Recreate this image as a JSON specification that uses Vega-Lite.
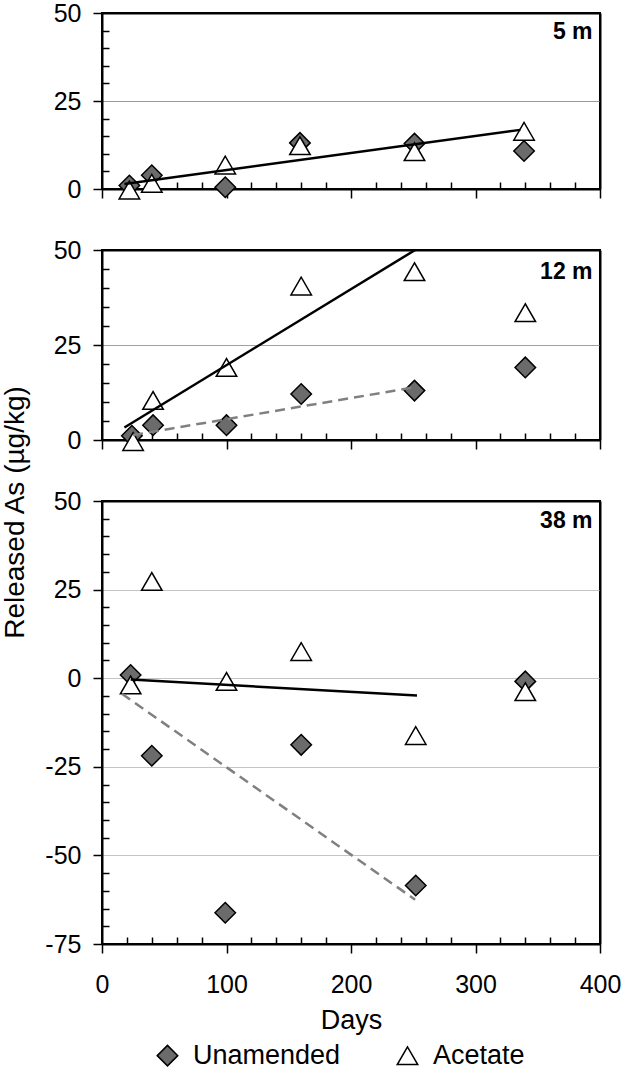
{
  "$schema": "https://vega.github.io/schema/vega-lite/v6.json",
  "background": "white",
  "padding": {"left": 0, "top": 0, "right": 0, "bottom": 0},
  "bounds": "flush",
  "spacing": 61,
  "datasets": {
    "pts": [
      {"panel": "5 m", "series": "Unamended", "day": 22, "value": 1.0},
      {"panel": "5 m", "series": "Unamended", "day": 40, "value": 3.9},
      {"panel": "5 m", "series": "Unamended", "day": 99, "value": 0.5},
      {"panel": "5 m", "series": "Unamended", "day": 159, "value": 13.1},
      {"panel": "5 m", "series": "Unamended", "day": 251, "value": 12.9},
      {"panel": "5 m", "series": "Unamended", "day": 339, "value": 10.8},
      {"panel": "12 m", "series": "Unamended", "day": 24, "value": 1.1},
      {"panel": "12 m", "series": "Unamended", "day": 41, "value": 3.9},
      {"panel": "12 m", "series": "Unamended", "day": 100, "value": 3.9},
      {"panel": "12 m", "series": "Unamended", "day": 160, "value": 12.1},
      {"panel": "12 m", "series": "Unamended", "day": 251, "value": 13.0},
      {"panel": "12 m", "series": "Unamended", "day": 340, "value": 19.1},
      {"panel": "38 m", "series": "Unamended", "day": 23, "value": 0.9},
      {"panel": "38 m", "series": "Unamended", "day": 40, "value": -21.9},
      {"panel": "38 m", "series": "Unamended", "day": 99, "value": -66.2},
      {"panel": "38 m", "series": "Unamended", "day": 160, "value": -18.8},
      {"panel": "38 m", "series": "Unamended", "day": 252, "value": -58.5},
      {"panel": "38 m", "series": "Unamended", "day": 340, "value": -0.9},
      {"panel": "5 m", "series": "Acetate", "day": 22, "value": -0.3},
      {"panel": "5 m", "series": "Acetate", "day": 40, "value": 1.6},
      {"panel": "5 m", "series": "Acetate", "day": 99, "value": 6.8},
      {"panel": "5 m", "series": "Acetate", "day": 159, "value": 12.3},
      {"panel": "5 m", "series": "Acetate", "day": 251, "value": 10.6},
      {"panel": "5 m", "series": "Acetate", "day": 339, "value": 16.4},
      {"panel": "12 m", "series": "Acetate", "day": 25, "value": -0.4},
      {"panel": "12 m", "series": "Acetate", "day": 41, "value": 10.4},
      {"panel": "12 m", "series": "Acetate", "day": 100, "value": 19.1},
      {"panel": "12 m", "series": "Acetate", "day": 160, "value": 40.5},
      {"panel": "12 m", "series": "Acetate", "day": 251, "value": 44.3},
      {"panel": "12 m", "series": "Acetate", "day": 340, "value": 33.5},
      {"panel": "38 m", "series": "Acetate", "day": 23, "value": -1.9},
      {"panel": "38 m", "series": "Acetate", "day": 40, "value": 27.3},
      {"panel": "38 m", "series": "Acetate", "day": 100, "value": -0.9},
      {"panel": "38 m", "series": "Acetate", "day": 160, "value": 7.5},
      {"panel": "38 m", "series": "Acetate", "day": 252, "value": -16.2},
      {"panel": "38 m", "series": "Acetate", "day": 340, "value": -3.8}
    ],
    "fits": [
      {"panel": "5 m", "fit": "Acetate", "day": 18, "value": 1.4},
      {"panel": "5 m", "fit": "Acetate", "day": 336, "value": 16.8},
      {"panel": "12 m", "fit": "Acetate", "day": 18, "value": 3.3},
      {"panel": "12 m", "fit": "Acetate", "day": 251.5, "value": 50},
      {"panel": "12 m", "fit": "Unamended", "day": 25, "value": 1.3},
      {"panel": "12 m", "fit": "Unamended", "day": 251.5, "value": 13.9},
      {"panel": "38 m", "fit": "Acetate", "day": 23, "value": -0.4},
      {"panel": "38 m", "fit": "Acetate", "day": 253, "value": -4.9},
      {"panel": "38 m", "fit": "Unamended", "day": 16, "value": -4.4},
      {"panel": "38 m", "fit": "Unamended", "day": 251.5, "value": -62.5}
    ],
    "labs": [
      {"panel": "5 m"},
      {"panel": "12 m"},
      {"panel": "38 m"}
    ]
  },
  "resolve": {"scale": {"y": "independent", "x": "shared", "shape": "shared", "fill": "shared", "stroke": "shared"}},
  "vconcat": [
    {
      "width": 498,
      "height": 176,
      "resolve": {"axis": {"x": "independent", "y": "independent"}},
      "layer": [
        {
          "data": {"name": "pts"},
          "transform": [{"filter": "datum.panel === '5 m'"}],
          "mark": {"type": "point", "filled": true, "size": 420, "strokeWidth": 1.5, "opacity": 1},
          "encoding": {
            "x": {"field": "day", "type": "quantitative", "scale": {"domain": [0, 400], "nice": false},
              "axis": {"values": [0,20,40,60,80,100,120,140,160,180,200,220,240,260,280,300,320,340,360,380,400],
                "tickSize": {"condition": {"test": "datum.value % 100 === 0", "value": 9}, "value": -7},
                "labels": false, "title": null, "grid": false}},
            "y": {"field": "value", "type": "quantitative", "scale": {"domain": [0, 50], "nice": false, "zero": false},
              "axis": {"values": [0,5,10,15,20,25,30,35,40,45,50],
                "tickSize": {"condition": {"test": "datum.value % 25 === 0", "value": 9}, "value": -7},
                "labelExpr": "datum.value % 25 === 0 ? '' + datum.value : ''",
                "gridOpacity": {"condition": {"test": "datum.value % 25 === 0", "value": 1}, "value": 0},
                "gridColor": "#999999", "labelPadding": 12, "title": null}},
            "shape": {"field": "series", "type": "nominal", "scale": {"domain": ["Unamended", "Acetate"], "range": ["diamond", "triangle-up"]}, "legend": {"title": null}},
            "fill": {"field": "series", "type": "nominal", "scale": {"domain": ["Unamended", "Acetate"], "range": ["#6b6b6b", "white"]}, "legend": {"title": null}},
            "stroke": {"field": "series", "type": "nominal", "scale": {"domain": ["Unamended", "Acetate"], "range": ["black", "black"]}, "legend": {"title": null}}
          }
        },
        {
          "data": {"name": "fits"},
          "transform": [{"filter": "datum.panel === '5 m' && datum.fit === 'Acetate'"}],
          "mark": {"type": "line", "color": "black", "strokeWidth": 2.5},
          "encoding": {
            "x": {"field": "day", "type": "quantitative", "scale": {"domain": [0, 400], "nice": false},
              "axis": {"orient": "top", "domain": true, "ticks": false, "labels": false, "grid": false, "title": null}},
            "y": {"field": "value", "type": "quantitative", "scale": {"domain": [0, 50], "nice": false, "zero": false},
              "axis": {"orient": "right", "domain": true, "ticks": false, "labels": false, "grid": false, "title": null}}
          }
        },
        {
          "data": {"name": "labs"},
          "transform": [{"filter": "datum.panel === '5 m'"}],
          "mark": {"type": "text", "align": "right", "baseline": "alphabetic", "fontSize": 23, "fontWeight": "bold", "fill": "black", "font": "Liberation Sans"},
          "encoding": {
            "x": {"datum": 394, "type": "quantitative", "axis": null},
            "y": {"datum": 42.5, "type": "quantitative", "axis": null},
            "text": {"field": "panel", "type": "nominal"}
          }
        }
      ]
    },
    {
      "width": 498,
      "height": 190,
      "resolve": {"axis": {"x": "independent", "y": "independent"}},
      "layer": [
        {
          "data": {"name": "pts"},
          "transform": [{"filter": "datum.panel === '12 m'"}],
          "mark": {"type": "point", "filled": true, "size": 420, "strokeWidth": 1.5, "opacity": 1},
          "encoding": {
            "x": {"field": "day", "type": "quantitative", "scale": {"domain": [0, 400], "nice": false},
              "axis": {"values": [0,20,40,60,80,100,120,140,160,180,200,220,240,260,280,300,320,340,360,380,400],
                "tickSize": {"condition": {"test": "datum.value % 100 === 0", "value": 9}, "value": -7},
                "labels": false, "title": null, "grid": false}},
            "y": {"field": "value", "type": "quantitative", "scale": {"domain": [0, 50], "nice": false, "zero": false},
              "axis": {"values": [0,5,10,15,20,25,30,35,40,45,50],
                "tickSize": {"condition": {"test": "datum.value % 25 === 0", "value": 9}, "value": -7},
                "labelExpr": "datum.value % 25 === 0 ? '' + datum.value : ''",
                "gridOpacity": {"condition": {"test": "datum.value % 25 === 0", "value": 1}, "value": 0},
                "gridColor": "#a0a0a0", "labelPadding": 12,
                "title": "Released As (µg/kg)", "titleAngle": 270, "titleAlign": "center", "titleBaseline": "alphabetic",
                "titleFontSize": 28, "titleX": -79, "titleY": 262}},
            "shape": {"field": "series", "type": "nominal", "scale": {"domain": ["Unamended", "Acetate"], "range": ["diamond", "triangle-up"]}, "legend": {"title": null}},
            "fill": {"field": "series", "type": "nominal", "scale": {"domain": ["Unamended", "Acetate"], "range": ["#6b6b6b", "white"]}, "legend": {"title": null}},
            "stroke": {"field": "series", "type": "nominal", "scale": {"domain": ["Unamended", "Acetate"], "range": ["black", "black"]}, "legend": {"title": null}}
          }
        },
        {
          "data": {"name": "fits"},
          "transform": [{"filter": "datum.panel === '12 m' && datum.fit === 'Acetate'"}],
          "mark": {"type": "line", "color": "black", "strokeWidth": 2.5},
          "encoding": {
            "x": {"field": "day", "type": "quantitative", "scale": {"domain": [0, 400], "nice": false},
              "axis": {"orient": "top", "domain": true, "ticks": false, "labels": false, "grid": false, "title": null}},
            "y": {"field": "value", "type": "quantitative", "scale": {"domain": [0, 50], "nice": false, "zero": false},
              "axis": {"orient": "right", "domain": true, "ticks": false, "labels": false, "grid": false, "title": null}}
          }
        },
        {
          "data": {"name": "fits"},
          "transform": [{"filter": "datum.panel === '12 m' && datum.fit === 'Unamended'"}],
          "mark": {"type": "line", "color": "#808080", "strokeWidth": 2.5, "strokeDash": [10, 6]},
          "encoding": {
            "x": {"field": "day", "type": "quantitative", "scale": {"domain": [0, 400], "nice": false}, "axis": null},
            "y": {"field": "value", "type": "quantitative", "scale": {"domain": [0, 50], "nice": false, "zero": false}, "axis": null}
          }
        },
        {
          "data": {"name": "labs"},
          "transform": [{"filter": "datum.panel === '12 m'"}],
          "mark": {"type": "text", "align": "right", "baseline": "alphabetic", "fontSize": 23, "fontWeight": "bold", "fill": "black", "font": "Liberation Sans"},
          "encoding": {
            "x": {"datum": 394, "type": "quantitative", "axis": null},
            "y": {"datum": 42.5, "type": "quantitative", "axis": null},
            "text": {"field": "panel", "type": "nominal"}
          }
        }
      ]
    },
    {
      "width": 498,
      "height": 443,
      "resolve": {"axis": {"x": "independent", "y": "independent"}},
      "layer": [
        {
          "data": {"name": "pts"},
          "transform": [{"filter": "datum.panel === '38 m'"}],
          "mark": {"type": "point", "filled": true, "size": 420, "strokeWidth": 1.5, "opacity": 1},
          "encoding": {
            "x": {"field": "day", "type": "quantitative", "scale": {"domain": [0, 400], "nice": false},
              "axis": {"values": [0,20,40,60,80,100,120,140,160,180,200,220,240,260,280,300,320,340,360,380,400],
                "tickSize": {"condition": {"test": "datum.value % 100 === 0", "value": 9}, "value": -7},
                "labelExpr": "datum.value % 100 === 0 ? '' + datum.value : ''",
                "labelPadding": 19, "title": "Days", "titlePadding": 10, "grid": false}},
            "y": {"field": "value", "type": "quantitative", "scale": {"domain": [-75, 50], "nice": false, "zero": false},
              "axis": {"values": [-75,-70,-65,-60,-55,-50,-45,-40,-35,-30,-25,-20,-15,-10,-5,0,5,10,15,20,25,30,35,40,45,50],
                "tickSize": {"condition": {"test": "datum.value % 25 === 0", "value": 9}, "value": -7},
                "labelExpr": "datum.value % 25 === 0 ? '' + datum.value : ''",
                "gridOpacity": {"condition": {"test": "datum.value % 25 === 0", "value": 1}, "value": 0},
                "gridColor": "#c4c4c4", "labelPadding": 12, "title": null}},
            "shape": {"field": "series", "type": "nominal", "scale": {"domain": ["Unamended", "Acetate"], "range": ["diamond", "triangle-up"]},
              "legend": {"title": null, "orient": "none", "legendX": 52, "legendY": 1029, "direction": "horizontal"}},
            "fill": {"field": "series", "type": "nominal", "scale": {"domain": ["Unamended", "Acetate"], "range": ["#6b6b6b", "white"]},
              "legend": {"title": null, "orient": "none", "legendX": 52, "legendY": 1029, "direction": "horizontal"}},
            "stroke": {"field": "series", "type": "nominal", "scale": {"domain": ["Unamended", "Acetate"], "range": ["black", "black"]},
              "legend": {"title": null, "orient": "none", "legendX": 52, "legendY": 1029, "direction": "horizontal"}}
          }
        },
        {
          "data": {"name": "fits"},
          "transform": [{"filter": "datum.panel === '38 m' && datum.fit === 'Acetate'"}],
          "mark": {"type": "line", "color": "black", "strokeWidth": 2.5},
          "encoding": {
            "x": {"field": "day", "type": "quantitative", "scale": {"domain": [0, 400], "nice": false},
              "axis": {"orient": "top", "domain": true, "ticks": false, "labels": false, "grid": false, "title": null}},
            "y": {"field": "value", "type": "quantitative", "scale": {"domain": [-75, 50], "nice": false, "zero": false},
              "axis": {"orient": "right", "domain": true, "ticks": false, "labels": false, "grid": false, "title": null}}
          }
        },
        {
          "data": {"name": "fits"},
          "transform": [{"filter": "datum.panel === '38 m' && datum.fit === 'Unamended'"}],
          "mark": {"type": "line", "color": "#808080", "strokeWidth": 2.5, "strokeDash": [10, 6]},
          "encoding": {
            "x": {"field": "day", "type": "quantitative", "scale": {"domain": [0, 400], "nice": false}, "axis": null},
            "y": {"field": "value", "type": "quantitative", "scale": {"domain": [-75, 50], "nice": false, "zero": false}, "axis": null}
          }
        },
        {
          "data": {"name": "labs"},
          "transform": [{"filter": "datum.panel === '38 m'"}],
          "mark": {"type": "text", "align": "right", "baseline": "alphabetic", "fontSize": 23, "fontWeight": "bold", "fill": "black", "font": "Liberation Sans"},
          "encoding": {
            "x": {"datum": 394, "type": "quantitative", "axis": null},
            "y": {"datum": 42.5, "type": "quantitative", "axis": null},
            "text": {"field": "panel", "type": "nominal"}
          }
        }
      ]
    }
  ],
  "config": {
    "font": "Liberation Sans",
    "view": {"stroke": "black", "strokeWidth": 2},
    "axis": {
      "domainColor": "black", "domainWidth": 2, "tickColor": "black", "tickWidth": 1.5,
      "labelColor": "black", "labelFont": "Liberation Sans", "labelFontSize": 25,
      "titleFont": "Liberation Sans", "titleFontSize": 27, "titleFontWeight": "normal", "titleColor": "black",
      "labelOverlap": false, "labelFlush": false, "gridWidth": 1
    },
    "legend": {
      "labelFontSize": 27, "labelFont": "Liberation Sans",
      "labelColor": "black", "symbolSize": 420, "symbolStrokeColor": "black", "symbolStrokeWidth": 1.5,
      "columnPadding": 53, "labelOffset": 12
    }
  }
}
